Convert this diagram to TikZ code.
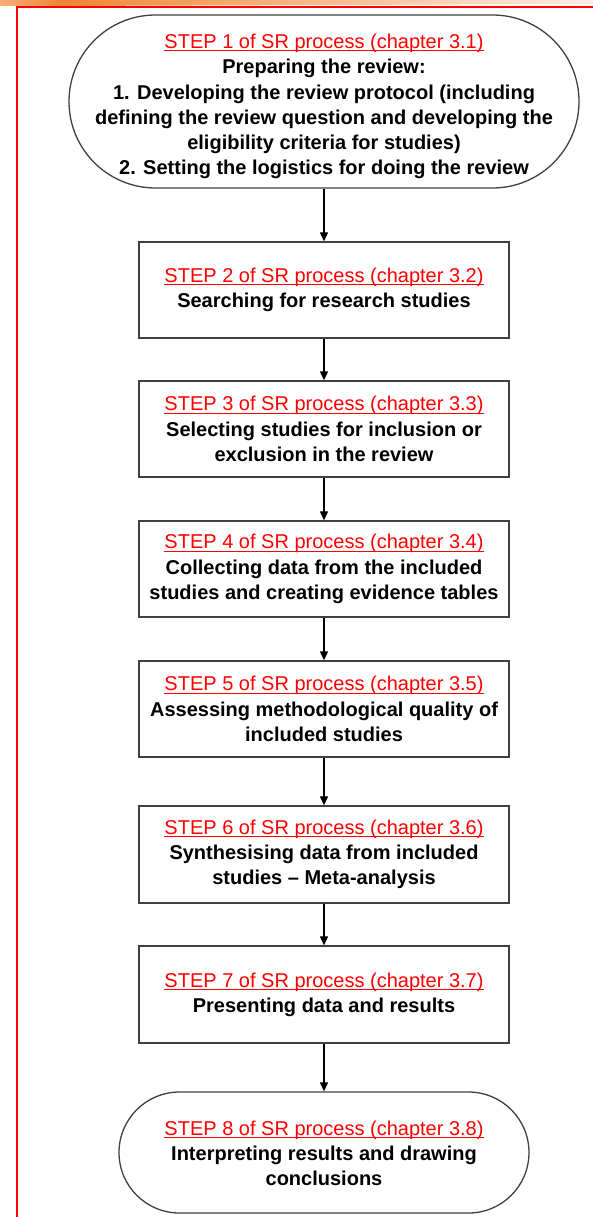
\documentclass[tikz,border=0pt]{standalone}
\usepackage{fontspec}
\setmainfont{Liberation Sans}
\usetikzlibrary{arrows.meta,shapes.misc}
\definecolor{steplink}{RGB}{255,0,0}
\definecolor{framered}{RGB}{255,0,0}
\definecolor{bandorange}{RGB}{240,120,30}
% underlined text with a thin rule just below the baseline
\newcommand{\stepul}[1]{\setbox0\hbox{#1}\rlap{\rule[-2.8pt]{\wd0}{1pt}}\box0}
\newcommand{\steplabel}[1]{{\mdseries\color{steplink}\stepul{STEP #1 of SR process (chapter 3.#1)}}}
\begin{document}
\begin{tikzpicture}[x=1pt,y=-1pt,
  boxtext/.style={align=center, inner sep=0pt, text=black,
    font=\fontsize{20}{25.2}\selectfont\bfseries},
  stepbox/.style={boxtext, draw=black!75, line width=1.3pt, fill=white,
    minimum width=370pt, minimum height=96pt},
  terminal/.style={rounded rectangle, draw=black!75, line width=1.3pt,
    fill=white, inner sep=0pt},
  flow/.style={draw=black, line width=1.2pt,
    -{Triangle[length=9pt,width=8pt]}}
]
\useasboundingbox (0,0) rectangle (593,1217);

% orange band along the top edge
\shade[left color=bandorange!60, right color=bandorange!90]
  (0,0) -- (60,0) -- (60,6) -- (0,6) -- cycle;
\shade[left color=bandorange!90, right color=bandorange!12]
  (60,0) -- (593,0) -- (593,4) -- (60,6) -- cycle;

% red page frame
\draw[framered, line width=1.4pt] (17,1217) -- (17,7) -- (593,7);

% step 1 (terminal shape)
\node[terminal, minimum width=510pt, minimum height=173pt] (s1) at (324,101.5) {};
\node[boxtext] (t1) at ([yshift=-5pt]s1.center) {\steplabel{1}\\
  Preparing the review:\\
  1. Developing the review protocol (including\\
  defining the review question and developing the\\
  eligibility criteria for studies)\\
  2. Setting the logistics for doing the review};

% steps 2--7
\node[stepbox] (s2) at (324,290) {\steplabel{2}\\Searching for research studies};
\node[stepbox] (s3) at (324,429) {\steplabel{3}\\Selecting studies for inclusion or\\exclusion in the review};
\node[stepbox] (s4) at (324,569) {\steplabel{4}\\Collecting data from the included\\studies and creating evidence tables};
\node[stepbox] (s5) at (324,709) {\steplabel{5}\\Assessing methodological quality of\\included studies};
\node[stepbox, minimum height=97pt] (s6) at (324,854.5) {\steplabel{6}\\Synthesising data from included\\studies -- Meta-analysis};
\node[stepbox, minimum height=97pt] (s7) at (324,994.5) {\steplabel{7}\\Presenting data and results};

% step 8 (terminal shape)
\node[terminal, minimum width=410pt, minimum height=121pt] (s8) at (324,1152.5) {};
\node[boxtext] (t8) at ([yshift=-1pt]s8.center) {\steplabel{8}\\Interpreting results and drawing\\conclusions};

% connectors
\draw[flow] (s1.south) -- (s2.north);
\draw[flow] (s2.south) -- (s3.north);
\draw[flow] (s3.south) -- (s4.north);
\draw[flow] (s4.south) -- (s5.north);
\draw[flow] (s5.south) -- (s6.north);
\draw[flow] (s6.south) -- (s7.north);
\draw[flow] (s7.south) -- (s8.north);
\end{tikzpicture}
\end{document}
